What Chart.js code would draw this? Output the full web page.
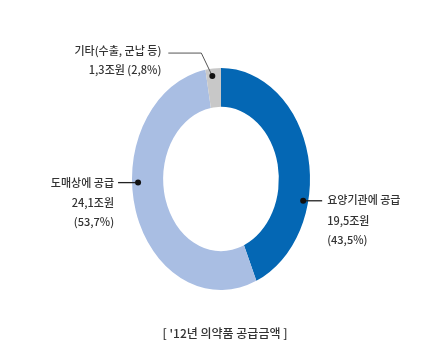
<!DOCTYPE html>
<html>
<head>
<meta charset="utf-8">
<script src="https://cdn.jsdelivr.net/npm/chart.js@4/dist/chart.umd.min.js"></script>
<style>
html,body{margin:0;padding:0;background:#fff;}
#wrap{width:446px;height:356px;position:relative;}
canvas{display:block;}
</style>
</head>
<body>
<div id="wrap"><canvas id="c" width="446" height="356"></canvas></div>
<script>
// ---- data ----
const categories = ['요양기관에 공급', '도매상에 공급', '기타(수출, 군납 등)'];
const amounts = ['19,5조원', '24,1조원', '1,3조원'];
const shares = [43.5, 53.7, 2.8];
const shareLabels = ['(43,5%)', '(53,7%)', '(2,8%)'];
const caption = "[ '12년 의약품 공급금액 ]";
const colors = ['#0467b4', '#a9bee3', '#c8c8c8'];

// ---- layout / style ----
const SY = 1.247; // vertical stretch of the ring
const FONT = '"Noto Sans CJK KR", "Noto Sans", sans-serif';
const TEXT = '#333333';
const WEIGHT = '500';

const ellipse = {
  id: 'ellipse',
  beforeDatasetsDraw(chart) {
    const a = chart.getDatasetMeta(0).data[0];
    const ctx = chart.ctx;
    ctx.save();
    ctx.translate(a.x, a.y);
    ctx.scale(1, SY);
    ctx.translate(-a.x, -a.y);
  },
  afterDatasetsDraw(chart) { chart.ctx.restore(); }
};

function ringPoint(arc, deg, inset) {
  const r = arc.outerRadius - inset;
  const t = deg * Math.PI / 180;
  return { x: arc.x + r * Math.sin(t), y: arc.y - r * Math.cos(t) * SY };
}

const labels = {
  id: 'labels',
  afterDraw(chart) {
    const ctx = chart.ctx;
    const arcs = chart.getDatasetMeta(0).data;
    ctx.save();
    ctx.fillStyle = TEXT;
    ctx.strokeStyle = '#222';
    ctx.lineWidth = 1.3;
    ctx.font = WEIGHT + ' 11px ' + FONT;
    ctx.textBaseline = 'middle';

    function dot(p) {
      ctx.beginPath(); ctx.arc(p.x, p.y, 3, 0, Math.PI * 2); ctx.fillStyle = '#111'; ctx.fill(); ctx.fillStyle = TEXT;
    }

    // right: 요양기관에 공급
    let p = ringPoint(arcs[0], 102, 5);
    ctx.beginPath(); ctx.moveTo(p.x, p.y); ctx.lineTo(p.x + 19, p.y); ctx.stroke();
    dot(p);
    ctx.textAlign = 'left';
    let tx = p.x + 24;
    ctx.fillText(categories[0], tx, p.y - 1);
    ctx.fillText(amounts[0], tx, p.y + 20);
    ctx.fillText(shareLabels[0], tx, p.y + 39);

    // left: 도매상에 공급
    p = ringPoint(arcs[1], 268, 6);
    ctx.beginPath(); ctx.moveTo(p.x, p.y); ctx.lineTo(p.x - 20, p.y); ctx.stroke();
    dot(p);
    ctx.textAlign = 'right';
    tx = p.x - 24;
    ctx.fillText(categories[1], tx, p.y);
    ctx.fillText(amounts[1], tx, p.y + 20);
    ctx.fillText(shareLabels[1], tx, p.y + 39);

    // top: 기타
    p = ringPoint(arcs[2], 354, 6);
    const ly = p.y - 23;
    ctx.strokeStyle = '#555';
    ctx.lineWidth = 1;
    ctx.beginPath(); ctx.moveTo(p.x, p.y); ctx.lineTo(p.x - 11, ly); ctx.lineTo(p.x - 44, ly); ctx.stroke();
    dot(p);
    ctx.textAlign = 'right';
    tx = p.x - 51;
    ctx.fillText(categories[2], tx, ly - 2);
    ctx.fillText(amounts[2] + ' ' + shareLabels[2], tx, ly + 17);

    // caption
    ctx.textAlign = 'center';
    ctx.font = WEIGHT + ' 12px ' + FONT;
    ctx.fillText(caption, 225, 333);
    ctx.restore();
  }
};

new Chart(document.getElementById('c'), {
  type: 'doughnut',
  data: {
    labels: categories,
    datasets: [{
      data: shares,
      backgroundColor: colors,
      borderWidth: 0,
      hoverOffset: 0,
      clip: false
    }]
  },
  options: {
    responsive: false,
    animation: false,
    cutout: '65%',
    layout: { padding: { left: 132, right: 136, top: 90, bottom: 88 } },
    plugins: { legend: { display: false }, tooltip: { enabled: false } },
    events: []
  },
  plugins: [ellipse, labels]
});
</script>
</body>
</html>
